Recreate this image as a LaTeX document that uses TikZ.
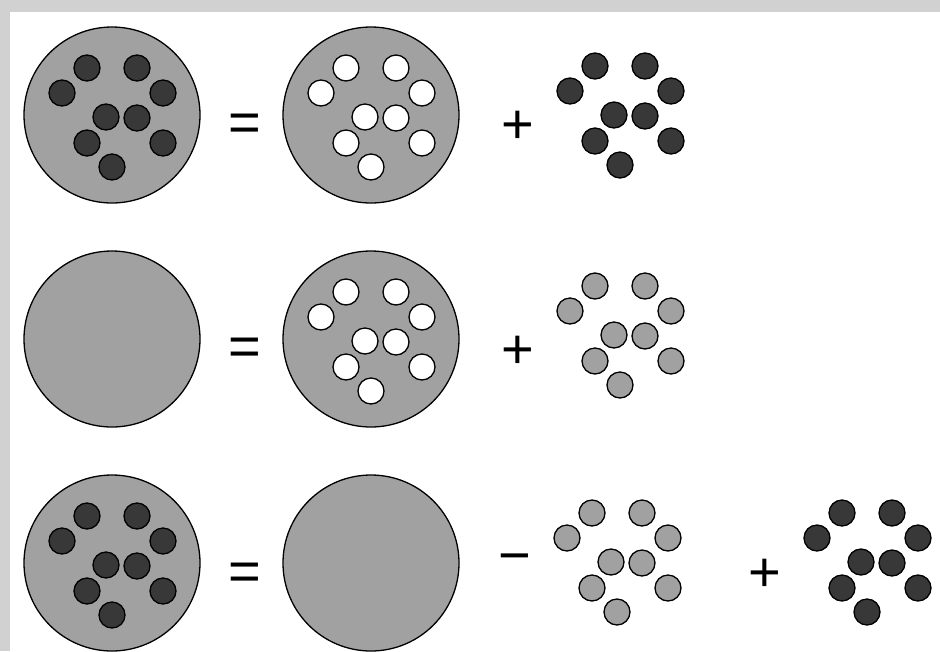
\documentclass[tikz,border=0pt]{standalone}
\usepackage{fontspec}
\setmainfont{Liberation Sans}
\usetikzlibrary{positioning}
\definecolor{framegray}{gray}{0.82}
\definecolor{discgray}{gray}{0.63}
\definecolor{dotdark}{gray}{0.22}
\tikzstyle{disc}=[draw,fill=discgray,circle,minimum size=176pt,inner sep=0pt,line width=1.3pt]
\tikzstyle{dot}=[draw,circle,minimum size=26pt,inner sep=0pt,line width=1.3pt]
\tikzstyle{sign}=[font=\fontsize{56}{56}\selectfont,inner sep=0pt]
% nine dots round a centre: name, x, y, fill
\newcommand{\dotgroup}[4]{%
  \foreach \dx/\dy [count=\i] in {-25/-47,25/-47,-50/-22,51/-22,-6/2,25/3,-25/28,51/28,0/52}
    \node [dot,fill=#4] (#1-\i) at (#2+\dx,#3+\dy) {};
}

\begin{document}
\begin{tikzpicture}[x=1pt,y=-1pt]
\fill [framegray] (0,0) rectangle (940,651);
\fill [white] (10,12) rectangle (940,651);
% first row
\node [disc] (fullA) at (112,115) {};
\dotgroup{fullAdots}{112}{115}{dotdark}
\node [sign] (eqA) at (245,128) {=};
\node [disc] (holedA) at (371,115) {};
\dotgroup{holesA}{371}{115}{white}
\node [sign] (plusA) at (518,127) {+};
\dotgroup{freeA}{620}{113}{dotdark}
% second row
\node [disc] (emptyB) at (112,339) {};
\node [sign] (eqB) at (245,352) {=};
\node [disc] (holedB) at (371,339) {};
\dotgroup{holesB}{371}{339}{white}
\node [sign] (plusB) at (518,352) {+};
\dotgroup{freeB}{620}{333}{discgray}
% third row
\node [disc] (fullC) at (112,563) {};
\dotgroup{fullCdots}{112}{563}{dotdark}
\node [sign] (eqC) at (245,577) {=};
\node [disc] (emptyC) at (371,563) {};
\node [sign] (minusC) at (515,564) {−};
\dotgroup{freeC}{617}{560}{discgray}
\node [sign] (plusC) at (765,575) {+};
\dotgroup{freeD}{867}{560}{dotdark}
\end{tikzpicture}
\end{document}
